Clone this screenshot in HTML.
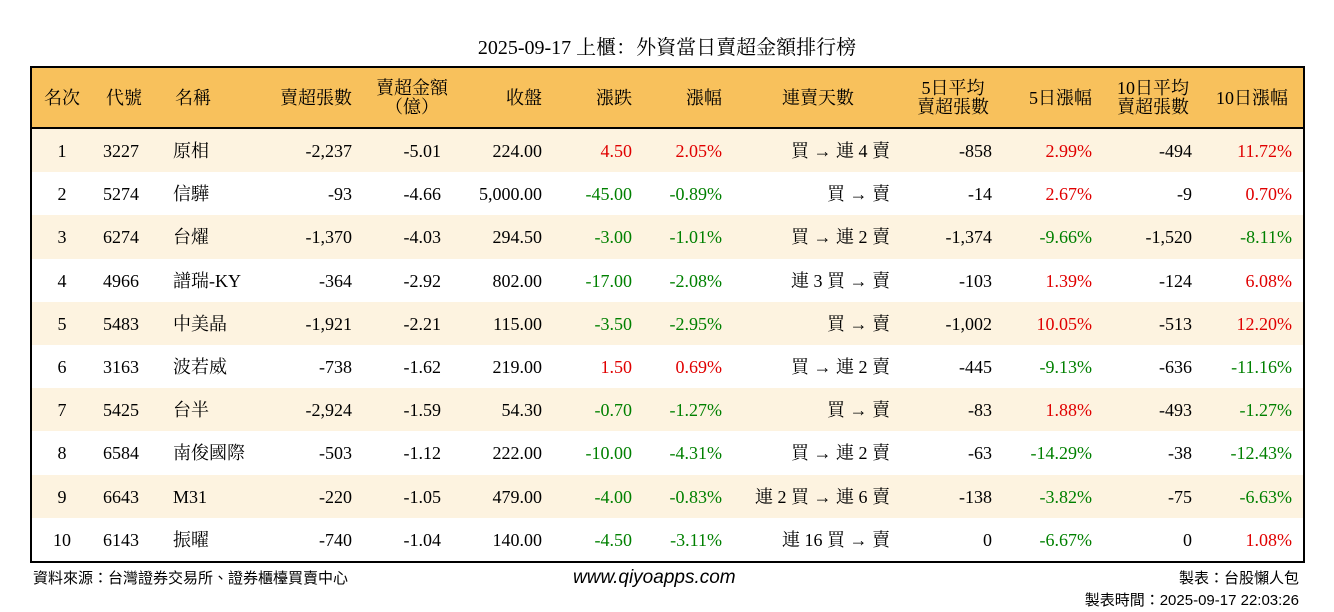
<!DOCTYPE html>
<html><head><meta charset="utf-8">
<style>
body{margin:0;width:1334px;height:612px;background:#fff;position:relative;overflow:hidden;font-family:"Liberation Serif","Noto Serif CJK SC",serif;color:#000}
.a{position:absolute;white-space:nowrap;font-size:18px;line-height:20px}
#title{position:absolute;left:0;width:1334px;top:31px;text-align:center;font-size:20px}
#tbl{position:absolute;left:30px;top:66px;width:1271px;height:493px;border:2px solid #000;overflow:hidden}
#hdr{position:absolute;left:0;top:0;width:1271px;height:59px;background:#f8c15c;border-bottom:2px solid #000}
.row{position:absolute;left:0;width:1271px;height:43.2px}
.r{color:#e00000}.g{color:#008000}
.foot{position:absolute;font-family:"Liberation Sans","Noto Sans CJK TC",sans-serif;font-size:15px}
</style></head><body>
<div id="title">2025-09-17 上櫃：外資當日賣超金額排行榜</div>
<div id="tbl"><div id="hdr"></div></div>
<div class="foot" style="left:33px;top:567px">資料來源：台灣證券交易所、證券櫃檯買賣中心</div>
<div class="foot" style="left:573px;top:567px;font-style:italic;font-size:19px">www.qiyoapps.com</div>
<div class="foot" style="right:35px;top:567px">製表：台股懶人包</div>
<div class="foot" style="right:35px;top:589px">製表時間：2025-09-17 22:03:26</div>
<script>
const headers=["名次","代號","名稱","賣超張數","賣超金額\n（億）","收盤","漲跌","漲幅","連賣天數","5日平均\n賣超張數","5日漲幅","10日平均\n賣超張數","10日漲幅"];
const names=["原相","信驊","台燿","譜瑞-KY","中美晶","波若威","台半","南俊國際","M31","振曜"];
const codes=["3227","5274","6274","4966","5483","3163","5425","6584","6643","6143"];
const sellQty=["-2,237","-93","-1,370","-364","-1,921","-738","-2,924","-503","-220","-740"];
const sellAmt=["-5.01","-4.66","-4.03","-2.92","-2.21","-1.62","-1.59","-1.12","-1.05","-1.04"];
const closes=["224.00","5,000.00","294.50","802.00","115.00","219.00","54.30","222.00","479.00","140.00"];
const changes=["4.50","-45.00","-3.00","-17.00","-3.50","1.50","-0.70","-10.00","-4.00","-4.50"];
const pct=["2.05%","-0.89%","-1.01%","-2.08%","-2.95%","0.69%","-1.27%","-4.31%","-0.83%","-3.11%"];
const streak=["買 → 連 4 賣","買 → 賣","買 → 連 2 賣","連 3 買 → 賣","買 → 賣","買 → 連 2 賣","買 → 賣","買 → 連 2 賣","連 2 買 → 連 6 賣","連 16 買 → 賣"];
const avg5=["-858","-14","-1,374","-103","-1,002","-445","-83","-63","-138","0"];
const pct5=["2.99%","2.67%","-9.66%","1.39%","10.05%","-9.13%","1.88%","-14.29%","-3.82%","-6.67%"];
const avg10=["-494","-9","-1,520","-124","-513","-636","-493","-38","-75","0"];
const pct10=["11.72%","0.70%","-8.11%","6.08%","12.20%","-11.16%","-1.27%","-12.43%","-6.63%","1.08%"];
const cols=[[62,'c'],[103,'l'],[173,'l'],[352,'r'],[441,'r'],[542,'r'],[632,'r'],[722,'r'],[890,'r'],[992,'r'],[1092,'r'],[1192,'r'],[1292,'r']];
const hx=[[62,'c'],[124,'c'],[193,'c'],[352,'r'],[412,'c'],[542,'r'],[632,'r'],[722,'r'],[818,'c'],[953,'c'],[1092,'r'],[1153,'c'],[1252,'c']];
const tbl=document.getElementById('tbl'),hdr=document.getElementById('hdr');
function place(parent,x,al,y,text,cls){
  const d=document.createElement('div');d.className='a '+(cls||'');
  
  
  d.textContent=text;d.style.top=y+'px';
  const px=x-32;
  if(al==='l')d.style.left=px+'px';
  else if(al==='r')d.style.right=(1271-px)+'px';
  else{d.style.left=(px-100)+'px';d.style.width='200px';d.style.textAlign='center';}
  parent.appendChild(d);return d;
}
headers.forEach((h,i)=>{
  const parts=h.split('\n');
  if(parts.length===1){const d=place(hdr,hx[i][0],hx[i][1],20,h);}
  else{const a=place(hdr,hx[i][0],hx[i][1],10,parts[0]);
    const b=place(hdr,hx[i][0],hx[i][1],29,parts[1]);}
});
const col=v=>v.startsWith('-')?'g':'r';
for(let r=0;r<10;r++){
  const row=document.createElement('div');row.className='row';
  
  
  row.style.top=(61+r*43.2)+'px';
  row.style.background=r%2===0?'#fdf3e0':'#fff';
  tbl.appendChild(row);
  const vals=[String(r+1),codes[r],names[r],sellQty[r],sellAmt[r],closes[r],changes[r],pct[r],streak[r],avg5[r],pct5[r],avg10[r],pct10[r]];
  vals.forEach((v,i)=>{
    let cls='';
    if(i===6||i===7)cls=col(changes[r]);
    if(i===10||i===12)cls=col(v);
    place(row,cols[i][0],cols[i][1],12,v,cls);
  });
}
</script>
</body></html>
